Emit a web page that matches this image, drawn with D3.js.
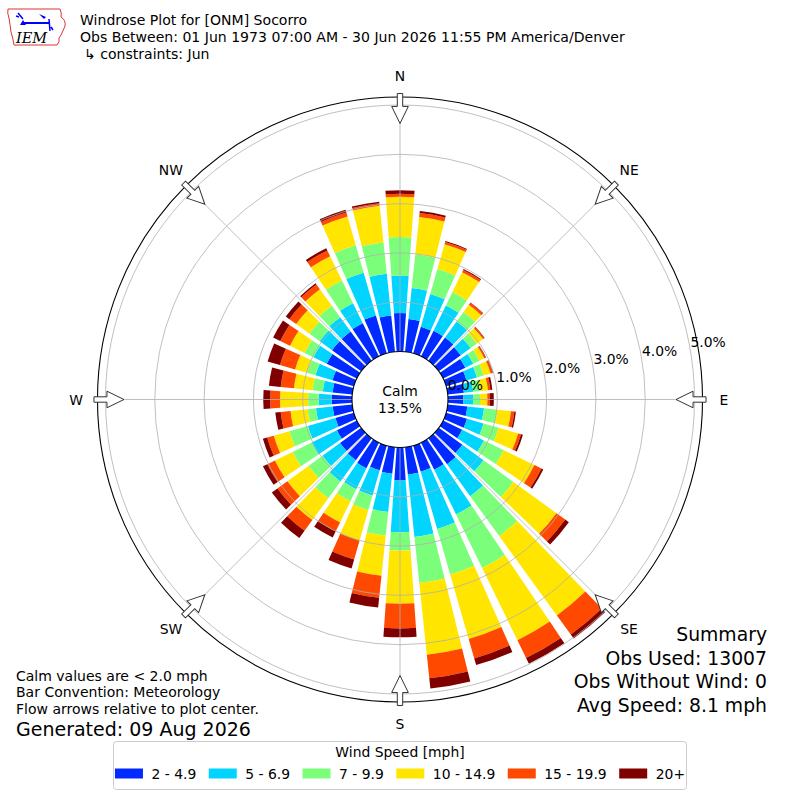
<!DOCTYPE html>
<html><head><meta charset="utf-8">
<script src="https://cdn.jsdelivr.net/npm/d3@7"></script>
<style>
body{margin:0;background:#fff}
svg{display:block}
text{font-family:"DejaVu Sans",sans-serif;fill:#000}
</style>
</head><body>
<svg id="chart" width="800" height="800"></svg>
<script>
// ---------------- DATA ----------------
const directions = [0,10,20,30,40,50,60,70,80,90,100,110,120,130,140,150,160,170,
                    180,190,200,210,220,230,240,250,260,270,280,290,300,310,320,330,340,350];
const speedBins = ["2 - 4.9","5 - 6.9","7 - 9.9","10 - 14.9","15 - 19.9","20+"];
const binColors = ["#002aff","#00d4ff","#7bff7b","#ffe500","#ff4800","#800000"];
// percent of observations per direction for each speed bin
const spd2to5   = [0.78,0.67,0.56,0.58,0.58,0.55,0.50,0.43,0.33,0.31,0.40,0.44,0.43,0.59,0.65,0.61,0.55,0.56,
                   0.67,0.54,0.52,0.58,0.55,0.53,0.45,0.39,0.40,0.41,0.40,0.45,0.68,0.73,0.73,0.75,0.80,0.74];
const spd5to7   = [0.76,0.63,0.69,0.57,0.40,0.25,0.18,0.22,0.19,0.20,0.34,0.35,0.49,0.53,0.80,1.01,1.21,1.27,
                   1.05,0.78,0.53,0.47,0.53,0.44,0.57,0.58,0.34,0.27,0.20,0.36,0.30,0.31,0.36,0.45,0.90,0.85];
const spd7to10  = [0.78,0.69,0.53,0.30,0.24,0.15,0.14,0.14,0.14,0.14,0.27,0.32,0.45,0.75,1.00,1.21,0.96,0.94,
                   0.37,0.48,0.31,0.27,0.42,0.35,0.43,0.39,0.17,0.21,0.21,0.18,0.20,0.26,0.29,0.51,0.58,0.64];
const spd10to15 = [0.82,0.76,0.52,0.45,0.18,0.16,0.11,0.15,0.16,0.15,0.28,0.41,0.69,1.08,1.99,1.63,1.36,1.46,
                   1.08,0.82,0.64,0.48,0.55,0.53,0.40,0.33,0.35,0.57,0.38,0.25,0.33,0.33,0.41,0.55,0.61,0.75];
const spd15to20 = [0.06,0.08,0.05,0.05,0.05,0.03,0.03,0.04,0.05,0.05,0.07,0.06,0.16,0.22,0.48,0.40,0.41,0.48,
                   0.50,0.45,0.40,0.20,0.27,0.25,0.17,0.14,0.20,0.20,0.27,0.32,0.22,0.17,0.12,0.13,0.08,0.05];
const spd20plus = [0.07,0.04,0.02,0.02,0.01,0.01,0.01,0.01,0.04,0.08,0.03,0.04,0.04,0.09,0.10,0.13,0.14,0.21,
                   0.18,0.20,0.19,0.14,0.18,0.14,0.10,0.09,0.11,0.14,0.24,0.26,0.16,0.09,0.03,0.05,0.06,0.03];
const ringTicks = [0,1,2,3,4,5];
const compassLabels = ["N","NE","E","SE","S","SW","W","NW"];
const compassAngles = [0,45,90,135,180,225,270,315];
const calmPct = 13.5;
const titleLines = ["Windrose Plot for [ONM] Socorro",
                    "Obs Between: 01 Jun 1973 07:00 AM - 30 Jun 2026 11:55 PM America/Denver",
                    "\u21b3 constraints: Jun"];
const noteLines = ["Calm values are < 2.0 mph","Bar Convention: Meteorology","Flow arrows relative to plot center."];
const generatedText = "Generated: 09 Aug 2026";
const summaryLines = ["Summary","Obs Used: 13007","Obs Without Wind: 0","Avg Speed: 8.1 mph"];

// ---------------- CHART ----------------
const svg = d3.select("#chart");
const cx = 400, cy = 399.5;
const rScale = d3.scaleLinear().domain([0,5]).range([48,294.5]);
const rMaxPct = 5.163;
const deg = Math.PI/180;
const halfWidth = 4; // degrees

const series = [spd2to5,spd5to7,spd7to10,spd10to15,spd15to20,spd20plus];
const keys = speedBins.map((s,i)=>"k"+i);
const rows = directions.map((d,j)=>{
  const o = {dir:d};
  series.forEach((s,i)=>{o["k"+i]=s[j];});
  return o;
});
const stacked = d3.stack().keys(keys)(rows);

const g = svg.append("g").attr("transform",`translate(${cx},${cy})`);

const arc = d3.arc()
  .innerRadius(d=>rScale(d[0]))
  .outerRadius(d=>rScale(d[1]))
  .startAngle(d=>(d.data.dir-halfWidth)*deg)
  .endAngle(d=>(d.data.dir+halfWidth)*deg);

stacked.forEach((layer,i)=>{
  g.append("g").selectAll("path").data(layer).join("path")
    .attr("d",arc).attr("fill",binColors[i]);
});

// rings
g.append("g").selectAll("circle").data(ringTicks.filter(t=>t>0)).join("circle")
  .attr("r",d=>rScale(d)).attr("fill","none").attr("stroke","#b0b0b0").attr("stroke-width",0.8);
// radial lines
g.append("g").selectAll("line").data(compassAngles).join("line")
  .attr("x1",0).attr("y1",0)
  .attr("x2",d=>rScale(rMaxPct)*Math.sin(d*deg))
  .attr("y2",d=>-rScale(rMaxPct)*Math.cos(d*deg))
  .attr("stroke","#b0b0b0").attr("stroke-width",0.8);
// frame
g.append("circle").attr("r",rScale(rMaxPct)).attr("fill","none").attr("stroke","#000").attr("stroke-width",1.1);
// calm circle
g.append("circle").attr("r",rScale(0)).attr("fill","#fff").attr("stroke","#000").attr("stroke-width",1.1);
g.append("text").attr("x",0).attr("y",-4).attr("text-anchor","middle").attr("font-size",13.9).text("Calm");
g.append("text").attr("x",0).attr("y",13).attr("text-anchor","middle").attr("font-size",13.9).text(calmPct.toFixed(1)+"%");

// ring labels
const labAng = 10*deg;
g.append("g").selectAll("text").data(ringTicks).join("text")
  .attr("x",d=>rScale(d)*Math.cos(labAng)+0.5)
  .attr("y",d=>-rScale(d)*Math.sin(labAng)-1)
  .attr("font-size",13.9)
  .text(d=>d.toFixed(1)+"%");

// compass arrows
const rF = rScale(rMaxPct);
const arrowPts = [[-2.7,-rF-3.5],[2.7,-rF-3.5],[2.7,-rF+9.5],[8.3,-rF+9.5],[0,-rF+26.5],[-8.3,-rF+9.5],[-2.7,-rF+9.5]];
g.append("g").selectAll("path").data(compassAngles).join("path")
  .attr("d","M"+arrowPts.map(p=>p.join(",")).join("L")+"Z")
  .attr("transform",d=>`rotate(${d})`)
  .attr("fill","#fff").attr("stroke","#333").attr("stroke-width",1);
// compass labels
g.append("g").selectAll("text").data(compassLabels).join("text")
  .attr("x",(d,i)=>324*Math.sin(compassAngles[i]*deg))
  .attr("y",(d,i)=>-324*Math.cos(compassAngles[i]*deg))
  .attr("dy","0.36em").attr("text-anchor","middle").attr("font-size",13.9)
  .text(d=>d);

// title
svg.append("g").selectAll("text").data(titleLines).join("text")
  .attr("x",(d,i)=>i===2?84:80).attr("y",(d,i)=>25+i*17).attr("font-size",14.05).text(d=>d);

// logo
const logo = svg.append("g");
logo.append("path")
  .attr("d","M8,9 L60,9 Q62,13 61,17 Q66,20 65,26 Q63,31 61,35 L59,38 Q60,42 57,45 L14,45 Q13,38 11,32 Q10,24 9,18 Q7,13 8,9 Z")
  .attr("fill","none").attr("stroke","#d33").attr("stroke-width",1);
logo.append("line").attr("x1",22).attr("y1",23).attr("x2",50).attr("y2",23).attr("stroke","#00f").attr("stroke-width",2);
logo.append("path").attr("d","M18,13 L23,19 M16,16 L19,17").attr("stroke","#00f").attr("stroke-width",1.5).attr("fill","none");
logo.append("path").attr("d","M20,25 L23,20 L26,25 Z").attr("fill","#00f");
logo.append("path").attr("d","M39,14 L46,17 L44,19 Z").attr("fill","#00f");
logo.append("path").attr("d","M49,19 L50,31 M51,27 L53,30").attr("stroke","#00f").attr("stroke-width",1.5).attr("fill","none");
logo.append("text").attr("x",16).attr("y",43).attr("font-size",14.5)
  .style("font-family","'DejaVu Serif',serif").style("font-style","italic").attr("fill","#d00").text("IEM");

// notes bottom-left
svg.append("g").selectAll("text").data(noteLines).join("text")
  .attr("x",16).attr("y",(d,i)=>680.5+i*16.5).attr("font-size",14).text(d=>d);
svg.append("text").attr("x",16).attr("y",735.5).attr("font-size",19).text(generatedText);

// summary
svg.append("g").selectAll("text").data(summaryLines).join("text")
  .attr("x",767).attr("y",(d,i)=>641+i*23.5).attr("text-anchor","end").attr("font-size",18.8).text(d=>d);

// legend
const leg = svg.append("g");
leg.append("rect").attr("x",113.5).attr("y",741.5).attr("width",573).attr("height",48).attr("rx",3)
  .attr("fill","#fff").attr("stroke","#cccccc").attr("stroke-width",1);
leg.append("text").attr("x",400).attr("y",757).attr("text-anchor","middle").attr("font-size",13.9).text("Wind Speed [mph]");
const items = leg.append("g");
let xpos = 0;
speedBins.forEach((s,i)=>{
  items.append("rect").attr("x",xpos).attr("y",768.5).attr("width",28).attr("height",10).attr("fill",binColors[i]);
  const t = items.append("text").attr("x",xpos+36.5).attr("y",779).attr("font-size",13.9).text(s);
  const w = t.node().getComputedTextLength();
  xpos = xpos+36.5+w+(i<speedBins.length-1?12.5:0);
});
items.attr("transform",`translate(${400-xpos/2},0)`);
</script>
</body></html>
